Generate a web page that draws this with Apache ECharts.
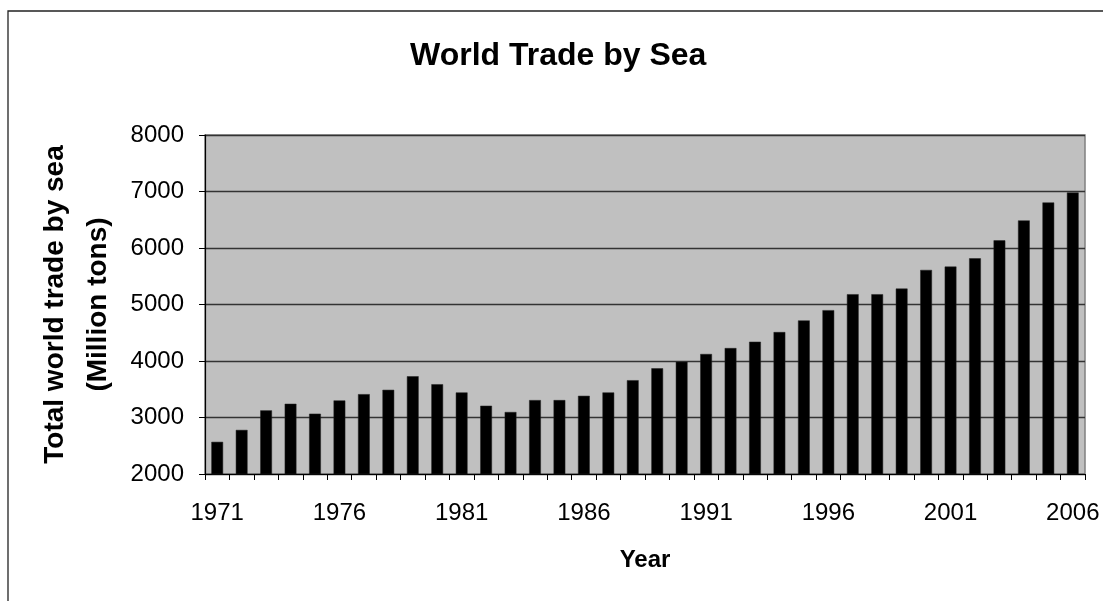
<!DOCTYPE html>
<html>
<head>
<meta charset="utf-8">
<script src="https://cdn.jsdelivr.net/npm/echarts@6/dist/echarts.min.js"></script>
<style>
html,body{margin:0;padding:0;background:#fff;}
#chart{width:1103px;height:601px;}
</style>
</head>
<body>
<div id="chart"></div>
<script>
const years = ['1971','1972','1973','1974','1975','1976','1977','1978','1979','1980',
  '1981','1982','1983','1984','1985','1986','1987','1988','1989','1990',
  '1991','1992','1993','1994','1995','1996','1997','1998','1999','2000',
  '2001','2002','2003','2004','2005','2006'];
const tradeBySea = [2569,2780,3126,3243,3067,3302,3413,3490,3730,3589,
  3443,3208,3097,3308,3308,3384,3443,3660,3871,3988,
  4124,4229,4341,4512,4718,4900,5182,5182,5282,5612,
  5671,5818,6135,6488,6806,6982];
const yTicks = [2000,3000,4000,5000,6000,7000,8000];

const FONT = '"Liberation Sans", Arial, sans-serif';
const chart = echarts.init(document.getElementById('chart'), null, {renderer:'canvas'});
chart.setOption({
  animation:false,
  backgroundColor:'#ffffff',
  title:{
    text:'World Trade by Sea',
    left:405, top:35,
    textStyle:{fontFamily:FONT,fontSize:32,fontWeight:'bold',color:'#000'}
  },
  graphic:[{
    type:'rect', silent:true, z:-1,
    shape:{x:8,y:11,width:1300,height:800},
    style:{fill:'none',stroke:'#222',lineWidth:1.3}
  }],
  grid:{
    left:205, right:18, top:135, bottom:127,
    show:true, backgroundColor:'#c0c0c0', borderColor:'#808080', borderWidth:1.5
  },
  xAxis:{
    type:'category',
    data:years,
    name:'Year',
    nameLocation:'middle',
    nameGap:74,
    nameTextStyle:{fontFamily:FONT,fontSize:24,fontWeight:'bold',color:'#000'},
    axisLine:{show:true,lineStyle:{color:'#000',width:1.2}},
    axisTick:{show:true,interval:0,length:6,inside:false,lineStyle:{color:'#000',width:1}},
    axisLabel:{interval:4,margin:27,fontFamily:FONT,fontSize:24,color:'#000'},
    splitLine:{show:false}
  },
  yAxis:{
    type:'value',
    min:yTicks[0], max:yTicks[yTicks.length-1], interval:yTicks[1]-yTicks[0],
    name:'Total world trade by sea\n(Million tons)',
    nameLocation:'middle',
    nameRotate:90,
    nameGap:82,
    nameTextStyle:{fontFamily:FONT,fontSize:28,fontWeight:'bold',color:'#000',lineHeight:43,align:'center'},
    axisLine:{show:true,lineStyle:{color:'#000',width:1.2}},
    axisTick:{show:true,length:6,inside:false,lineStyle:{color:'#000',width:1}},
    axisLabel:{margin:21,fontFamily:FONT,fontSize:24,color:'#000',formatter:function(v){return String(v);}},
    splitLine:{show:true,lineStyle:{color:'#333',width:1.3}}
  },
  series:[{
    type:'bar',
    data:tradeBySea,
    barWidth:'48%',
    itemStyle:{color:'#000',borderColor:'#222',borderWidth:0.5}
  }]
});
</script>
</body>
</html>
